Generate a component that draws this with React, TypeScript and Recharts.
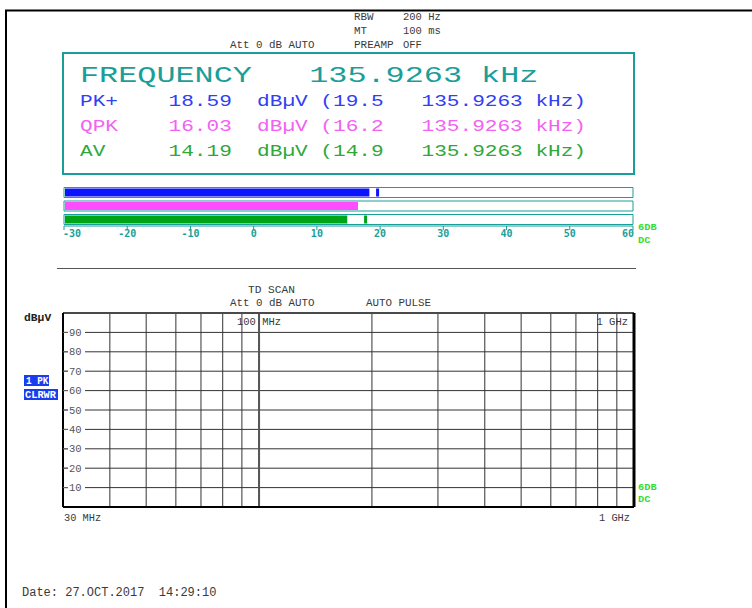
import React from 'react';
import {
  BarChart,
  Bar,
  XAxis,
  YAxis,
  ComposedChart,
  Line,
  CartesianGrid,
  ReferenceLine,
} from 'recharts';

// readout (text panel)
const detectors = ['PK+', 'QPK', 'AV'];
const readLevels = ['18.59', '16.03', '14.19'];
const readMaxHold = ['19.5', '16.2', '14.9'];
const readFreq = '135.9263 kHz';

// bargraph meter
const meterLevels = [18.3, 16.5, 14.8];
const meterMarkers = [19.6, null, 17.7];
const meterTicks = [-30, -20, -10, 0, 10, 20, 30, 40, 50, 60];

// TD scan diagram (MHz / dBuV)
const scanFreqs = [30, 40, 50, 60, 70, 80, 90, 100, 200, 300, 400, 500, 600, 700, 800, 900, 1000];
const scanTopMarks = [100, 1000];
const scanLevelTicks = [10, 20, 30, 40, 50, 60, 70, 80, 90];

const TEAL = '#1a9e99';
const TXT = '#3a3a3a';
const MONO = "'Liberation Mono', monospace";
const METER_COLORS = ['#0a14ff', '#ff4dff', '#00a414'];
const READ_COLORS = ['#3040f2', '#f262f2', '#2ea83a'];
const LIME = '#33dd33';

const meterData = detectors.map((name, i) => ({
  name,
  value: meterLevels[i],
  marker: meterMarkers[i],
}));

const scanData = scanFreqs.map((freq) => ({ freq }));

const pad = (s: string, n: number) => s + ' '.repeat(Math.max(n - s.length, 0));

function Mono({ x, y, text, size = 11, pitch, color = TXT, bold = false, anchor = 'start' }: any) {
  const fit = pitch ? { textLength: text.length * pitch, lengthAdjust: 'spacingAndGlyphs' } : {};
  return (
    <text
      x={x}
      y={y}
      fontFamily={MONO}
      fontSize={size}
      fill={color}
      fontWeight={bold ? 700 : 400}
      textAnchor={anchor}
      xmlSpace="preserve"
      style={{ whiteSpace: 'pre' }}
      {...fit}
    >
      {text}
    </text>
  );
}

function MeterBar(props: any) {
  const { x, y, width, height, payload } = props;
  const i = detectors.indexOf(payload.name);
  const perDb = width / (payload.value - meterTicks[0]);
  const mx = payload.marker == null ? null : x + (payload.marker - meterTicks[0]) * perDb;
  return (
    <g>
      <rect x={x + 1} y={y + 1} width={Math.max(width - 1, 0)} height={height - 2} fill={METER_COLORS[i]} />
      {mx != null && <rect x={mx - 1.5} y={y + 1} width={3} height={height - 2} fill={METER_COLORS[i]} />}
    </g>
  );
}

function MeterTick(props: any) {
  const { x, y, payload, index } = props;
  const last = index === meterTicks.length - 1;
  const anchor = index === 0 ? 'start' : last ? 'end' : 'middle';
  return (
    <text
      x={index === 0 ? x - 1 : last ? x + 1 : x}
      y={y + 5}
      textAnchor={anchor}
      fontFamily="'DejaVu Sans Mono', monospace"
      fontWeight={700}
      fontSize={10}
      fill={TEAL}
    >
      {payload.value < 0 ? `-${Math.abs(payload.value)}` : payload.value}
    </text>
  );
}

const freqLabel = (f: number) => (f >= 1000 ? `${f / 1000} GHz` : `${f} MHz`);

function ScanBottomTick(props: any) {
  const { x, y, payload, index } = props;
  if (index !== 0 && index !== scanFreqs.length - 1) return <g />;
  const first = index === 0;
  return (
    <Mono x={first ? x + 1 : x - 4} y={y + 14} text={freqLabel(payload.value)} size={10.5} pitch={6.2} anchor={first ? 'start' : 'end'} />
  );
}

function ScanTopTick(props: any) {
  const { x, y, payload, index } = props;
  const last = index === scanTopMarks.length - 1;
  return (
    <Mono x={last ? x - 6 : x} y={y + 12} text={freqLabel(payload.value)} size={10.5} pitch={6.3} anchor={last ? 'end' : 'middle'} />
  );
}

function ScanLevelTick(props: any) {
  const { x, y, payload } = props;
  return (
    <g>
      <rect x={x} y={y - 5} width={17} height={10} fill="#fff" />
      <text x={x + 1} y={y + 3.5} fontFamily={MONO} fontSize={10.5} fill="#555">
        {payload.value}
      </text>
    </g>
  );
}

export default function App() {
  const rows = detectors.map(
    (d, i) => `${pad(d, 7)}${pad(readLevels[i], 7)}dBµV (${pad(readMaxHold[i], 7)}${readFreq})`
  );

  return (
    <div style={{ position: 'absolute', left: 0, top: 0, width: 752, height: 608, background: '#fff', overflow: 'hidden' }}>
      <div style={{ position: 'absolute', left: 0, top: 180 }}>
        <BarChart width={752} height={70} data={meterData} layout="vertical" margin={{ top: 5.5, right: 119, bottom: 0, left: 64 }}>
          <XAxis
            type="number"
            domain={[meterTicks[0], meterTicks[meterTicks.length - 1]]}
            ticks={meterTicks}
            interval={0}
            height={24}
            axisLine={{ stroke: TEAL }}
            tickLine={{ stroke: TEAL }}
            tickSize={4}
            tickMargin={2}
            tick={<MeterTick />}
            allowDataOverflow
          />
          <YAxis type="category" dataKey="name" hide width={0} />
          <Bar
            dataKey={(e: any) => [meterTicks[0], e.value]}
            barSize={10}
            background={{ fill: '#fff', stroke: TEAL, strokeWidth: 1 }}
            shape={<MeterBar />}
            isAnimationActive={false}
          />
        </BarChart>
      </div>

      <div style={{ position: 'absolute', left: 0, top: 300 }}>
        <ComposedChart width={752} height={240} data={scanData} margin={{ top: 12, right: 117, bottom: 13, left: 63 }}>
          <CartesianGrid stroke="#333" strokeWidth={1} />
          <ReferenceLine x={100} stroke="#555" strokeWidth={2} />
          <XAxis
            dataKey="freq"
            type="number"
            scale="log"
            domain={[scanFreqs[0], scanFreqs[scanFreqs.length - 1]]}
            ticks={scanFreqs}
            interval={0}
            height={20}
            tickLine={false}
            tickSize={0}
            tickMargin={0}
            axisLine={{ stroke: '#000', strokeWidth: 2 }}
            tick={<ScanBottomTick />}
            allowDataOverflow
          />
          <XAxis
            xAxisId="top"
            orientation="top"
            dataKey="freq"
            type="number"
            scale="log"
            domain={[scanFreqs[0], scanFreqs[scanFreqs.length - 1]]}
            ticks={scanTopMarks}
            interval={0}
            height={1}
            tickLine={false}
            tickSize={0}
            tickMargin={0}
            axisLine={{ stroke: '#4a4a4a', strokeWidth: 2 }}
            tick={<ScanTopTick />}
            allowDataOverflow
          />
          <YAxis
            type="number"
            mirror
            domain={[0, 100]}
            ticks={scanLevelTicks}
            interval={0}
            width={30}
            tickSize={5}
            tickMargin={0}
            tickLine={{ stroke: '#666' }}
            axisLine={{ stroke: '#000', strokeWidth: 2 }}
            tick={<ScanLevelTick />}
            allowDataOverflow
          />
          <YAxis
            yAxisId="right"
            orientation="right"
            type="number"
            domain={[0, 100]}
            width={1}
            tick={false}
            tickLine={false}
            axisLine={{ stroke: '#000', strokeWidth: 3 }}
            allowDataOverflow
          />
          <Line dataKey="level" stroke="#0a14ff" dot={false} isAnimationActive={false} />
        </ComposedChart>
      </div>

      <svg width={752} height={608} style={{ position: 'absolute', left: 0, top: 0, pointerEvents: 'none' }}>
        {/* sheet frame */}
        <line x1={5} y1={10.5} x2={752} y2={10.5} stroke="#000" strokeWidth={2} />
        <line x1={6} y1={10} x2={6} y2={608} stroke="#000" strokeWidth={2} />

        {/* settings header */}
        <Mono x={354} y={19.5} text="RBW" pitch={6.5} />
        <Mono x={403} y={19.5} text="200 Hz" pitch={6.3} />
        <Mono x={354} y={34} text="MT" pitch={6.5} />
        <Mono x={403} y={34} text="100 ms" pitch={6.3} />
        <Mono x={230} y={47.5} text="Att 0 dB AUTO" pitch={6.5} />
        <Mono x={354} y={47.5} text="PREAMP" pitch={6.6} />
        <Mono x={403} y={47.5} text="OFF" pitch={6.3} />

        {/* readout panel */}
        <rect x={63} y={53} width={571} height={121} fill="none" stroke={TEAL} strokeWidth={2} />
        <Mono x={80} y={82} text={`FREQUENCY   ${readFreq}`} size={22} pitch={19.1} color={TEAL} />
        {rows.map((r, i) => (
          <Mono key={detectors[i]} x={80} y={106 + i * 25} text={r} size={16} pitch={12.65} color={READ_COLORS[i]} />
        ))}

        <Mono x={638} y={230} text="6DB" size={9.5} pitch={6.2} color={LIME} bold />
        <Mono x={638} y={243} text="DC" size={9.5} pitch={6.2} color={LIME} bold />

        <line x1={57} y1={268.5} x2={636} y2={268.5} stroke="#555" strokeWidth={1} />

        {/* scan header */}
        <Mono x={248} y={293} text="TD SCAN" pitch={6.7} />
        <Mono x={230} y={305.5} text="Att 0 dB AUTO" pitch={6.5} />
        <Mono x={366} y={305.5} text="AUTO PULSE" pitch={6.5} />
        <Mono x={24} y={321} text="dBµV" size={10.5} pitch={6.8} color="#222" bold />

        <rect x={24} y={375} width={25} height={11} fill="#1a3cf0" />
        <Mono x={26} y={384} text="1 PK" size={10} pitch={5.6} color="#fff" bold />
        <rect x={24} y={389} width={34} height={11} fill="#1a3cf0" />
        <Mono x={25} y={398} text="CLRWR" size={10} pitch={6.2} color="#fff" bold />

        <Mono x={638} y={490} text="6DB" size={9.5} pitch={6.2} color={LIME} bold />
        <Mono x={638} y={502} text="DC" size={9.5} pitch={6.2} color={LIME} bold />

        <Mono x={22} y={596} text="Date: 27.OCT.2017  14:29:10" size={12} pitch={7.2} />
      </svg>
    </div>
  );
}
